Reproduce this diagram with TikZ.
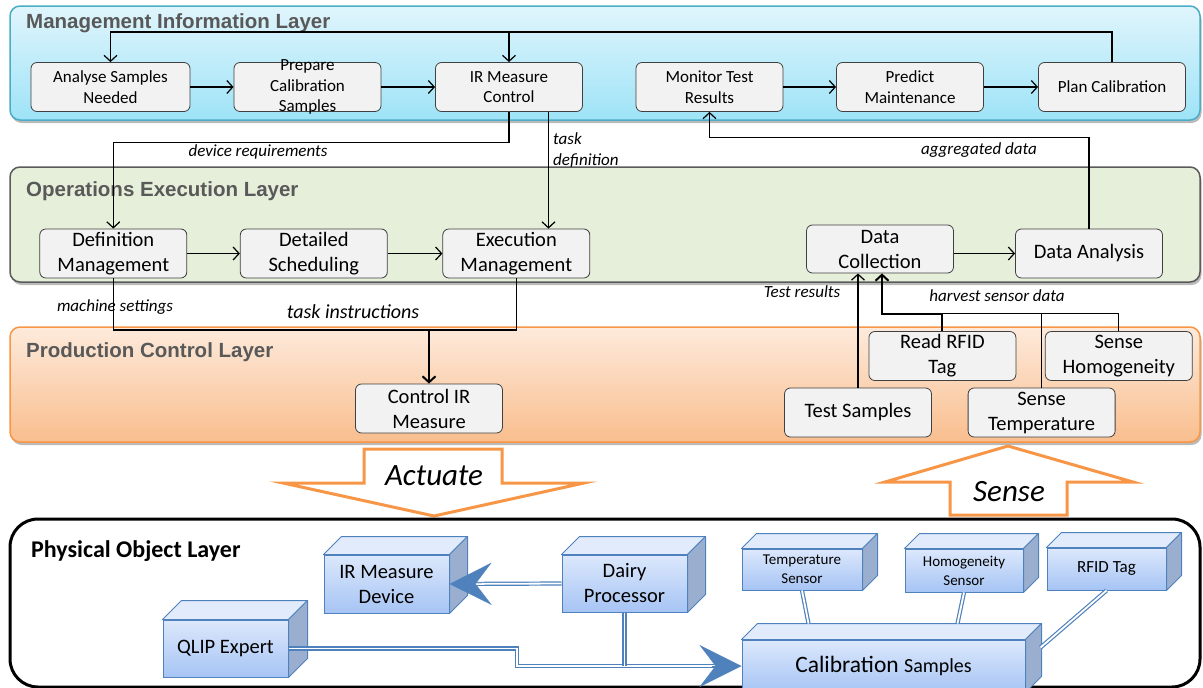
\documentclass[tikz,border=0pt]{standalone}
\usepackage{fontspec}
\setmainfont{Carlito}
\newfontfamily\layerfont{Liberation Sans}
\usepackage{tikz}
\usetikzlibrary{arrows.meta, calc, positioning, shadows}

\definecolor{mgmtline}{HTML}{4BACC6}
\definecolor{mgmttop}{HTML}{E0F5FC}
\definecolor{mgmtbot}{HTML}{9EE3F7}
\definecolor{opsfill}{HTML}{E6EFDA}
\definecolor{opsline}{HTML}{5A5A5A}
\definecolor{prodtop}{HTML}{FDEADB}
\definecolor{prodbot}{HTML}{F9BE8E}
\definecolor{prodline}{HTML}{F79646}
\definecolor{devline}{HTML}{4F81BD}
\definecolor{devtop}{HTML}{DCE8FC}
\definecolor{devbot}{HTML}{A6C4F4}
\definecolor{devlid}{HTML}{E1EBFB}
\definecolor{devside}{HTML}{9AAFD0}
\definecolor{boxfill}{HTML}{F2F2F2}
\definecolor{titlegray}{HTML}{595959}

\tikzset{
  proc/.style={draw=black!75, fill=boxfill, rounded corners=6pt, line width=0.8pt,
    minimum width=147pt, minimum height=49pt, align=center, inner sep=1pt,
    font=\fontsize{20.5}{25}\selectfont},
  mis/.style={font=\fontsize{17}{20.5}\selectfont},
  flow/.style={-{Straight Barb[length=6pt,width=13pt]}, line width=1.2pt},
  wire/.style={line width=1.2pt},
  lbl/.style={font=\itshape\fontsize{17}{21}\selectfont},
  layer/.style={rounded corners=10pt, line width=1.5pt,
    drop shadow={shadow xshift=1.5pt, shadow yshift=-3pt, fill=black!60, opacity=.45}},
  ltitle/.style={anchor=base west, inner sep=0pt, text=titlegray,
    font=\layerfont\bfseries\fontsize{20.5}{23}\selectfont},
  face/.style={draw=devline, line width=1pt, top color=devtop, bottom color=devbot,
    align=center, inner sep=1pt, font=\fontsize{20.5}{25}\selectfont},
  devedge/.style={draw=devline, line width=1pt, line join=round},
  dbl/.style={draw=devline, double=white, double distance=1.8pt, line width=1.2pt},
  bigtip/.style={draw=devline, fill=devline, line width=0.1pt,
    -{Stealth[length=42pt,width=42pt,inset=16pt]}},
  bigarrow/.style={draw=prodline, fill=white, line width=3pt, line join=miter},
  verb/.style={font=\itshape\fontsize{31}{36}\selectfont}
}

% front face node plus lid and side
\newcommand{\devbox}[8][]{%
  \node[face, minimum width=#5pt, minimum height=#6pt, #1] (#2) at (#3,#4) {#8};
  \draw[devedge, fill=devlid] (#2.north west) -- ++(#7,-#7) -- ($(#2.north east)+(#7,-#7)$) -- (#2.north east) -- cycle;
  \draw[devedge, fill=devside] (#2.north east) -- ++(#7,-#7) -- ($(#2.south east)+(#7,-#7)$) -- (#2.south east) -- cycle;
}

\begin{document}
\begin{tikzpicture}[x=1pt,y=-1pt]
\useasboundingbox (0,0) rectangle (1203,688);

% layers
\draw[layer, draw=mgmtline, top color=mgmttop, bottom color=mgmtbot] (10,6) rectangle (1200,120);
\draw[layer, draw=opsline, fill=opsfill] (10,167) rectangle (1200,282);
\draw[layer, draw=prodline, top color=prodtop, bottom color=prodbot] (10,327) rectangle (1200,442);
\node[ltitle] (mgmttitle) at (26,28) {Management Information Layer};
\node[ltitle] (opstitle) at (26,196) {Operations Execution Layer};
\node[ltitle] (prodtitle) at (26,357) {Production Control Layer};

% management information
\node[proc, mis, minimum width=159pt] (ana) at (110.5,87) {Analyse Samples\\Needed};
\node[proc, mis] (prep) at (307.5,87) {};
\node[mis, align=center, inner sep=0pt] (preptext) at (prep) {Prepare\\Calibration\\Samples};
\node[proc, mis] (irc) at (509,87) {IR Measure\\Control};
\node[proc, mis] (mon) at (709.5,87) {Monitor Test\\Results};
\node[proc, mis] (pred) at (910,87) {Predict\\Maintenance};
\node[proc, mis] (plan) at (1112,87) {Plan Calibration};

% operations execution
\node[proc] (def) at (113.3,253.5) {Definition\\Management};
\node[proc] (det) at (313.8,253.5) {Detailed\\Scheduling};
\node[proc] (exec) at (516.3,253.5) {Execution\\Management};
\node[proc, minimum height=48pt] (dcol) at (880,249) {Data\\Collection};
\node[proc] (dana) at (1089,253.5) {Data Analysis};

% production control
\node[proc] (ctrl) at (429,408.5) {Control IR\\Measure};
\node[proc] (rfid) at (942.4,356) {Read RFID\\Tag};
\node[proc] (homog) at (1118.8,356) {Sense\\Homogeneity};
\node[proc] (tests) at (858,412.5) {Test Samples};
\node[proc] (stemp) at (1041.6,412.5) {Sense\\Temperature};

\foreach \a/\b in {ana/prep, prep/irc, mon/pred, pred/plan, def/det, det/exec}
  \draw[flow] (\a) -- (\b);
\draw[flow] (dcol.east |- dana) -- (dana);

\coordinate (loop) at (0,32);
\draw[flow] (plan.north) |- (loop -| ana.north) -- (ana.north);
\draw[flow] (irc.north |- loop) -- (irc.north);

\draw[flow] (irc.south) -- ++(0,30.5) -| (def.north);
\node[lbl] (devreq) at (258,152) {device requirements};
\coordinate (tdef) at ($(irc.south)+(39.5,0)$);
\draw[flow] (tdef) -- (tdef |- exec.north);
\node[lbl, anchor=west, align=left, inner sep=0pt] (tdeflbl) at (553,150) {task\\definition};

\draw[flow] (dana.north) -- ++(0,-91) -| (mon.south);
\node[lbl] (agg) at (979,150) {aggregated data};

\coordinate (tins) at (0,330);
\draw[wire] (def.south) |- (tins -| exec.south) -- (exec.south);
\draw[flow, line width=2pt] (ctrl.north |- tins) -- (ctrl.north);
\node[lbl] (mset) at (115,307) {machine settings};
\node[lbl, font=\itshape\fontsize{20}{24}\selectfont] (tinslbl) at (353,312) {task instructions};

\draw[flow] (tests.north) -- (tests.north |- dcol.south);
\coordinate (hv) at (882,313.5);
\draw[wire] (homog.north) |- (hv);
\draw[wire] (stemp.north) -- (stemp.north |- hv);
\draw[flow, line width=2pt] (rfid.north) |- (hv) -- (hv |- dcol.south);
\node[lbl] (tres) at (802,292) {Test results};
\node[lbl] (harv) at (997,296) {harvest sensor data};

% actuate / sense
\draw[bigarrow] (364,449) -- (502,449) -- (502,483) -- (584,483) -- (434,516) -- (283,483) -- (364,483) -- cycle;
\node[verb] (actuate) at (434,476) {Actuate};
\draw[bigarrow] (950,515) -- (1067,515) -- (1067,482) -- (1133,482) -- (1008,446) -- (885,482) -- (950,482) -- cycle;
\node[verb] (sense) at (1009,492) {Sense};

% physical objects
\draw[line width=3pt, rounded corners=28pt] (10,519) rectangle (1200,687);
\node[anchor=west, inner sep=0pt, font=\bfseries\fontsize{24}{28}\selectfont] (phystitle) at (31,551) {Physical Object Layer};

\devbox{irdev}{386.5}{584}{125}{58}{18}{IR Measure\\Device}
\devbox{qlip}{225.5}{648.5}{125}{57}{19}{QLIP Expert}
\devbox{dairy}{624.5}{583.5}{125}{57}{18}{Dairy\\Processor}
\devbox[font=\fontsize{15}{19}\selectfont]{tsens}{802}{569.5}{120}{41}{15}{Temperature\\Sensor}
\devbox[font=\fontsize{15}{19}\selectfont]{hsens}{964}{570.5}{118}{43}{15}{Homogeneity\\Sensor}
\devbox[font=\fontsize{17}{20}\selectfont]{rtag}{1106.5}{569}{119}{42}{15}{RFID Tag}
\devbox[font=\fontsize{23.5}{28}\selectfont]{calib}{883.5}{666}{283}{52}{16}{Calibration {\fontsize{20}{24}\selectfont Samples}}

\draw[dbl, shorten >=24pt] (dairy.west) -- (irdev.east);
\draw[bigtip, shorten <=80pt] (dairy.west) -- (irdev.east);
\coordinate (qj) at (516.7,0);
\draw[dbl, shorten >=24pt] (qlip.east) -- (qlip.east -| qj) |- (calib.west);
\draw[bigtip] ($(calib.west)+(-30,0)$) -- (calib.west);
\draw[dbl] (dairy.south) -- (dairy.south |- calib.west);
\draw[dbl] (tsens.south) -- ($(calib.north west)+(67,-16)$);
\draw[dbl] (hsens.south) -- ($(calib.north west)+(216,-16)$);
\draw[dbl] (rtag.south) -- ($(calib.north east)+(15,8)$);
\end{tikzpicture}
\end{document}
